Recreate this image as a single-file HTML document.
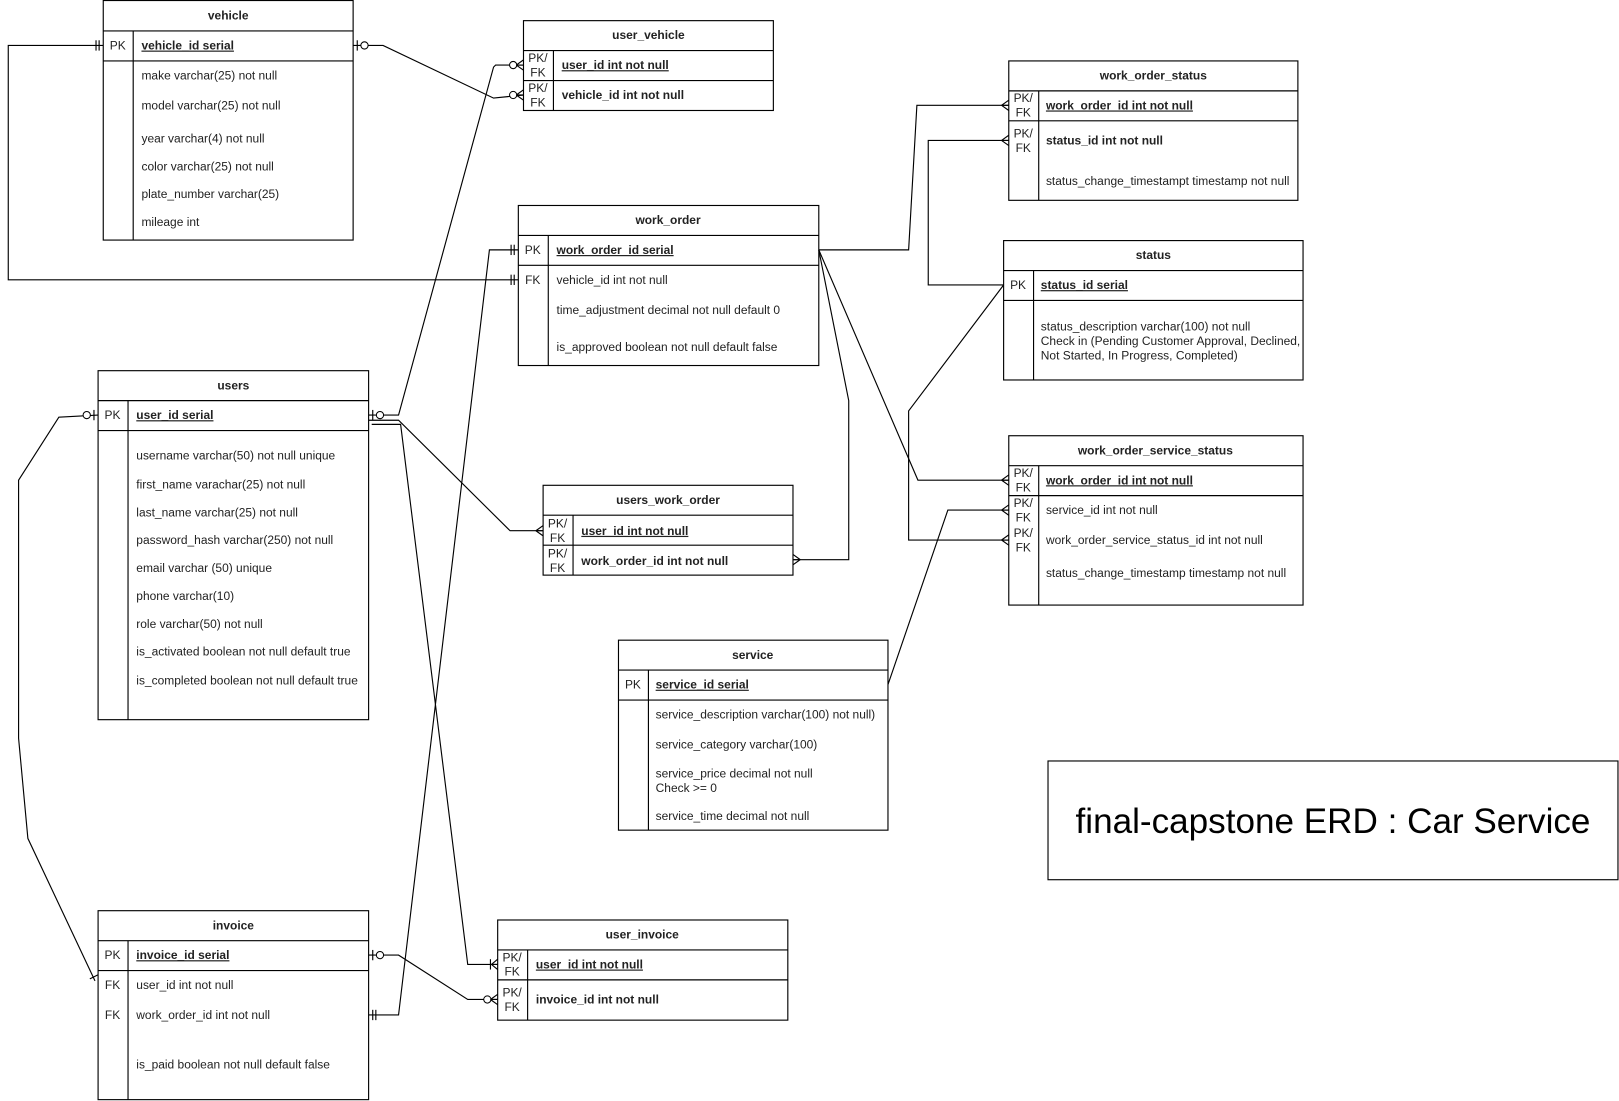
<!DOCTYPE html>
<html><head><meta charset="utf-8"><style>
html,body{margin:0;padding:0;background:#fff}
svg{display:block}
text{font-family:"Liberation Sans",Arial,sans-serif;font-size:11.6px;fill:#222}
.h{font-weight:bold;text-anchor:middle}
.b{font-weight:bold}
.u{text-decoration:underline;font-weight:bold}
.k{text-anchor:middle}
line,polyline,rect,path{stroke:#000;stroke-width:1.1;fill:none}
circle{stroke:#000;stroke-width:1;fill:#fff}
</style></head><body>
<svg width="1619" height="1101" viewBox="0 0 1568 1066.3" xmlns="http://www.w3.org/2000/svg">

<!-- vehicle -->
<rect x="100" y="0.5" width="242" height="232"/>
<line x1="100" y1="30" x2="342" y2="30"/><line x1="100" y1="59" x2="342" y2="59"/>
<line x1="129" y1="30" x2="129" y2="232"/>
<text class="h" x="221" y="19">vehicle</text>
<text class="k" x="114" y="48">PK</text><text class="u" x="137" y="48">vehicle_id serial </text>
<text x="137" y="77">make varchar(25) not null</text>
<text x="137" y="106">model varchar(25) not null</text>
<text x="137" y="138">year varchar(4) not null</text>
<text x="137" y="165">color varchar(25) not null</text>
<text x="137" y="192">plate_number varchar(25)</text>
<text x="137" y="219">mileage int</text>

<!-- user_vehicle -->
<rect x="507" y="20" width="242" height="87"/>
<line x1="507" y1="49" x2="749" y2="49"/><line x1="507" y1="78" x2="749" y2="78"/>
<line x1="536" y1="49" x2="536" y2="107"/>
<text class="h" x="628" y="38">user_vehicle</text>
<text class="k" x="521" y="60">PK/</text><text class="k" x="521" y="74">FK</text>
<text class="u" x="544" y="67">user_id int not null</text>
<text class="k" x="521" y="89">PK/</text><text class="k" x="521" y="103">FK</text>
<text class="b" x="544" y="96">vehicle_id int not null</text>

<!-- work_order -->
<rect x="502" y="199" width="291" height="155"/>
<line x1="502" y1="228" x2="793" y2="228"/><line x1="502" y1="257" x2="793" y2="257"/>
<line x1="531" y1="228" x2="531" y2="354"/>
<text class="h" x="647" y="217">work_order</text>
<text class="k" x="516" y="246">PK</text><text class="u" x="539" y="246">work_order_id serial</text>
<text class="k" x="516" y="275">FK</text><text x="539" y="275">vehicle_id int not null</text>
<text x="539" y="304">time_adjustment decimal not null default 0</text>
<text x="539" y="340">is_approved boolean not null default false</text>

<!-- work_order_status -->
<rect x="977" y="59" width="280" height="135"/>
<line x1="977" y1="88" x2="1257" y2="88"/><line x1="977" y1="117" x2="1257" y2="117"/>
<line x1="1006" y1="88" x2="1006" y2="194"/>
<text class="h" x="1117" y="77">work_order_status</text>
<text class="k" x="991" y="99">PK/</text><text class="k" x="991" y="113">FK</text>
<text class="u" x="1013" y="106">work_order_id int not null</text>
<text class="k" x="991" y="133">PK/</text><text class="k" x="991" y="147">FK</text>
<text class="b" x="1013" y="140">status_id int not null</text>
<text x="1013" y="179">status_change_timestampt timestamp not null</text>

<!-- status -->
<rect x="972" y="233" width="290" height="135"/>
<line x1="972" y1="262" x2="1262" y2="262"/><line x1="972" y1="291" x2="1262" y2="291"/>
<line x1="1001" y1="262" x2="1001" y2="368"/>
<text class="h" x="1117" y="251">status</text>
<text class="k" x="986" y="280">PK</text><text class="u" x="1008" y="280">status_id serial</text>
<text x="1008" y="320">status_description varchar(100) not null</text>
<text x="1008" y="334">Check in (Pending Customer Approval, Declined,</text>
<text x="1008" y="348">Not Started, In Progress, Completed)</text>

<!-- work_order_service_status -->
<rect x="977" y="422" width="285" height="164"/>
<line x1="977" y1="451" x2="1262" y2="451"/><line x1="977" y1="480" x2="1262" y2="480"/>
<line x1="1006" y1="451" x2="1006" y2="586"/>
<text class="h" x="1119" y="440">work_order_service_status</text>
<text class="k" x="991" y="462">PK/</text><text class="k" x="991" y="476">FK</text>
<text class="u" x="1013" y="469">work_order_id int not null</text>
<text class="k" x="991" y="491">PK/</text><text class="k" x="991" y="505">FK</text>
<text x="1013" y="498">service_id int not null</text>
<text class="k" x="991" y="520">PK/</text><text class="k" x="991" y="534">FK</text>
<text x="1013" y="527">work_order_service_status_id int not null</text>
<text x="1013" y="559">status_change_timestamp timestamp not null</text>

<!-- users -->
<rect x="95" y="359" width="262" height="338"/>
<line x1="95" y1="388" x2="357" y2="388"/><line x1="95" y1="417" x2="357" y2="417"/>
<line x1="124" y1="388" x2="124" y2="697"/>
<text class="h" x="226" y="377">users</text>
<text class="k" x="109" y="406">PK</text><text class="u" x="132" y="406">user_id serial</text>
<text x="132" y="445">username varchar(50) not null unique</text>
<text x="132" y="473">first_name varachar(25) not null</text>
<text x="132" y="500">last_name varchar(25) not null</text>
<text x="132" y="527">password_hash varchar(250) not null</text>
<text x="132" y="554">email varchar (50) unique</text>
<text x="132" y="581">phone varchar(10)</text>
<text x="132" y="608">role varchar(50) not null</text>
<text x="132" y="635">is_activated boolean not null default true</text>
<text x="132" y="663">is_completed boolean not null default true</text>

<!-- users_work_order -->
<rect x="526" y="470" width="242" height="87"/>
<line x1="526" y1="499" x2="768" y2="499"/><line x1="526" y1="528" x2="768" y2="528"/>
<line x1="555" y1="499" x2="555" y2="557"/>
<text class="h" x="647" y="488">users_work_order</text>
<text class="k" x="540" y="511">PK/</text><text class="k" x="540" y="525">FK</text>
<text class="u" x="563" y="518">user_id int not null</text>
<text class="k" x="540" y="540">PK/</text><text class="k" x="540" y="554">FK</text>
<text class="b" x="563" y="547">work_order_id int not null</text>

<!-- service -->
<rect x="599" y="620" width="261" height="184"/>
<line x1="599" y1="649" x2="860" y2="649"/><line x1="599" y1="678" x2="860" y2="678"/>
<line x1="628" y1="649" x2="628" y2="804"/>
<text class="h" x="729" y="638">service</text>
<text class="k" x="613" y="667">PK</text><text class="u" x="635" y="667">service_id serial</text>
<text x="635" y="696">service_description varchar(100) not null)</text>
<text x="635" y="725">service_category varchar(100)</text>
<text x="635" y="753">service_price decimal not null</text>
<text x="635" y="767">Check &gt;= 0</text>
<text x="635" y="794">service_time decimal not null</text>

<!-- invoice -->
<rect x="95" y="882" width="262" height="183"/>
<line x1="95" y1="911" x2="357" y2="911"/><line x1="95" y1="940" x2="357" y2="940"/>
<line x1="124" y1="911" x2="124" y2="1065"/>
<text class="h" x="226" y="900">invoice</text>
<text class="k" x="109" y="929">PK</text><text class="u" x="132" y="929">invoice_id serial</text>
<text class="k" x="109" y="958">FK</text><text x="132" y="958">user_id int not null</text>
<text class="k" x="109" y="987">FK</text><text x="132" y="987">work_order_id int not null</text>
<text x="132" y="1035">is_paid boolean not null default false</text>

<!-- user_invoice -->
<rect x="482" y="891" width="281" height="97"/>
<line x1="482" y1="920" x2="763" y2="920"/><line x1="482" y1="949" x2="763" y2="949"/>
<line x1="511" y1="920" x2="511" y2="988"/>
<text class="h" x="622" y="909">user_invoice</text>
<text class="k" x="496" y="931">PK/</text><text class="k" x="496" y="945">FK</text>
<text class="u" x="519" y="938">user_id int not null</text>
<text class="k" x="496" y="965">PK/</text><text class="k" x="496" y="979">FK</text>
<text class="b" x="519" y="972">invoice_id int not null</text>

<!-- title -->
<rect x="1015" y="737" width="552" height="115"/>
<text x="1291" y="807" style="font-size:34px;text-anchor:middle;fill:#000">final-capstone ERD : Car Service</text>

<!-- connectors -->
<polyline points="100,44 8,44 8,271 502,271"/>
<line x1="93" y1="39" x2="93" y2="49"/><line x1="96" y1="39" x2="96" y2="49"/>
<line x1="495" y1="266" x2="495" y2="276"/><line x1="498" y1="266" x2="498" y2="276"/>
<polyline points="342,44 371,44 478,95 507,92"/>
<line x1="346" y1="39" x2="346" y2="49"/><circle cx="353" cy="44" r="3.5"/>
<circle cx="497" cy="92" r="3.5"/>
<path d="M500,92 L507,87 M500,92 L507,92 M500,92 L507,97"/>
<polyline points="357,402 386,402 478,65 480,63 507,63"/>
<line x1="361" y1="397" x2="361" y2="407"/><circle cx="368" cy="402" r="3.5"/>
<circle cx="497" cy="63" r="3.5"/>
<path d="M500,63 L507,58 M500,63 L507,63 M500,63 L507,68"/>
<polyline points="357,407 386,407 494,514 526,514"/>
<path d="M519,514 L526,509 M519,514 L526,514 M519,514 L526,519"/>
<polyline points="360,411 388,411 453,934 482,934"/>
<line x1="475" y1="929" x2="475" y2="939"/>
<path d="M476,934 L482,929 M476,934 L482,934 M476,934 L482,939"/>
<polyline points="95,402 57,404 18,465 18,715 27,812 92,950"/>
<line x1="91" y1="397" x2="91" y2="407"/><circle cx="84" cy="402" r="3.5"/>
<line x1="87" y1="948" x2="95" y2="944"/>
<polyline points="502,242 474,242 386,983 357,983"/>
<line x1="495" y1="237" x2="495" y2="247"/><line x1="498" y1="237" x2="498" y2="247"/>
<line x1="361" y1="978" x2="361" y2="988"/><line x1="364" y1="978" x2="364" y2="988"/>
<polyline points="793,242 880,242 888,102 977,102"/>
<path d="M970,102 L977,97 M970,102 L977,102 M970,102 L977,107"/>
<polyline points="793,242 822,388 822,542 768,542"/>
<path d="M775,542 L768,537 M775,542 L768,542 M775,542 L768,547"/>
<polyline points="793,242 889,465 977,465"/>
<path d="M970,465 L977,460 M970,465 L977,465 M970,465 L977,470"/>
<polyline points="972,276 899,276 899,136 977,136"/>
<path d="M970,136 L977,131 M970,136 L977,136 M970,136 L977,141"/>
<polyline points="972,276 880,398 880,523 977,523"/>
<path d="M970,523 L977,518 M970,523 L977,523 M970,523 L977,528"/>
<polyline points="860,663 918,494 977,494"/>
<path d="M970,494 L977,489 M970,494 L977,494 M970,494 L977,499"/>
<polyline points="357,925 386,925 453,968 482,968"/>
<line x1="361" y1="920" x2="361" y2="930"/><circle cx="368" cy="925" r="3.5"/>
<circle cx="472" cy="968" r="3.5"/>
<path d="M475,968 L482,963 M475,968 L482,968 M475,968 L482,973"/>
</svg>
</body></html>
